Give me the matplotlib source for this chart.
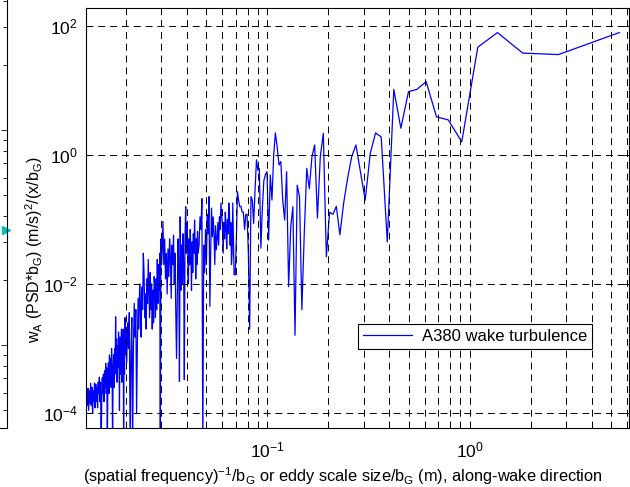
import matplotlib
matplotlib.use("Agg")
import matplotlib.pyplot as plt
import matplotlib.ticker as ticker

# large eddies: resolved harmonics
scale_coarse = [5.48, 2.74, 1.827, 1.37, 1.096, 0.9133, 0.7829, 0.685, 0.6089, 0.548,
                0.4982, 0.4567, 0.4215, 0.3914, 0.3653, 0.3425, 0.3224, 0.3044, 0.2884, 0.274,
                0.261, 0.2491, 0.2383, 0.2283, 0.2192, 0.2108, 0.203, 0.1957, 0.189, 0.1827,
                0.1768, 0.1713, 0.1661, 0.1612, 0.1566, 0.1522, 0.1481, 0.1442, 0.1405, 0.137,
                0.1337, 0.1305, 0.1274, 0.1245, 0.1218, 0.1191, 0.1166, 0.1142, 0.1118, 0.1096,
                0.1075, 0.1054, 0.1034, 0.1015, 0.0996, 0.0979, 0.0961, 0.0945, 0.0929, 0.0913,
                0.0898, 0.0884, 0.087, 0.0856, 0.0843, 0.083, 0.0818, 0.0806, 0.0794, 0.0783,
                0.0772, 0.0761, 0.0751, 0.0741, 0.0731, 0.0721, 0.0712, 0.0703, 0.0694, 0.0685]
psd_coarse = [79, 36, 38, 79, 47, 1.6, 3.5, 3.9, 13.7, 10.4,
              9.6, 2.6, 10.4, 0.045, 1.9, 2.2, 1.05, 0.20, 0.55, 1.43,
              0.94, 0.43, 0.18, 0.058, 0.16, 0.12, 0.13, 0.0265, 2.17, 0.94,
              0.105, 1.43, 0.94, 0.30, 0.62, 0.06, 0.004, 0.226, 0.34, 0.0016,
              0.158, 0.077, 0.0091, 0.55, 0.098, 0.2, 0.79, 0.70, 1.35, 2.2,
              1.0, 0.2, 0.49, 0.048, 0.55, 0.5, 0.40, 0.15, 0.036, 0.62,
              0.58, 0.84, 0.3, 0.087, 0.2, 0.226, 0.002, 0.03, 0.12, 0.12,
              0.07, 0.13, 0.13, 0.16, 0.158, 0.2, 0.27, 0.05, 0.0138, 0.014]

# small eddies: the dense band, estimated from the envelope of the trace
scale_dense = [0.0680, 0.0675, 0.0670, 0.0665, 0.0660, 0.0655, 0.0650, 0.0645, 0.0640, 0.0635,
               0.0630, 0.0625, 0.0620, 0.0615, 0.0610, 0.0605, 0.0600, 0.0595, 0.0590, 0.0585,
               0.0580, 0.0575, 0.0570, 0.0565, 0.0560, 0.0555, 0.0550, 0.0545, 0.0540, 0.0535,
               0.0530, 0.0525, 0.0520, 0.0515, 0.0510, 0.0505, 0.0500, 0.0495, 0.0490, 0.0485,
               0.0480, 0.0475, 0.0470, 0.0465, 0.0460,
               0.0455, 0.0452, 0.0449, 0.0446, 0.0443, 0.0440, 0.0437, 0.0434, 0.0431, 0.0428,
               0.0425, 0.0422, 0.0419, 0.0416, 0.0413, 0.0410, 0.0407, 0.0404, 0.0401, 0.0398,
               0.0395, 0.0392, 0.0389, 0.0386, 0.0383, 0.0380, 0.0377, 0.0374, 0.0371, 0.0368,
               0.0365, 0.0362, 0.0359, 0.0356, 0.0353, 0.0350, 0.0347, 0.0344, 0.0341, 0.0338,
               0.0335, 0.0332, 0.0329, 0.0326, 0.0323, 0.0320, 0.0317, 0.0314, 0.0311, 0.0308,
               0.0305, 0.0302,
               0.0300, 0.0298, 0.0296, 0.0294, 0.0292, 0.0290, 0.0288, 0.0286, 0.0284, 0.0282,
               0.0280, 0.0278, 0.0276, 0.0274, 0.0272, 0.0270, 0.0268, 0.0266, 0.0264, 0.0262,
               0.0260, 0.0258, 0.0256, 0.0254, 0.0252, 0.0250, 0.0248, 0.0246, 0.0244, 0.0242,
               0.0240, 0.0238, 0.0236, 0.0234, 0.0232, 0.0230, 0.0228, 0.0226, 0.0224, 0.0222,
               0.0220, 0.0218, 0.0216, 0.0214, 0.0212, 0.0210, 0.0208, 0.0206, 0.0204, 0.0202,
               0.0200,
               0.0199, 0.0198, 0.0197, 0.0196, 0.0195, 0.0194, 0.0193, 0.0192, 0.0191, 0.0190,
               0.0189, 0.0188, 0.0187, 0.0186, 0.0185, 0.0184, 0.0183, 0.0182, 0.0181, 0.0180,
               0.0179, 0.0178, 0.0177, 0.0176, 0.0175, 0.0174, 0.0173, 0.0172, 0.0171, 0.0170,
               0.0169, 0.0168, 0.0167, 0.0166, 0.0165, 0.0164, 0.0163, 0.0162, 0.0161, 0.0160,
               0.0159, 0.0158, 0.0157, 0.0156, 0.0155, 0.0154, 0.0153, 0.0152, 0.0151, 0.0150,
               0.0149, 0.0148, 0.0147, 0.0146, 0.0145, 0.0144, 0.0143, 0.0142, 0.0141, 0.0140,
               0.0139, 0.0138, 0.0137, 0.0136, 0.0135, 0.0134, 0.0133, 0.0132, 0.0131, 0.0130,
               0.0129, 0.0128, 0.0127]
psd_dense = [0.05, 0.18, 0.03, 0.02, 0.09, 0.04, 0.12, 0.18, 0.06, 0.10,
             0.035, 0.077, 0.13, 0.05, 0.09, 0.03, 0.08, 0.12, 0.18, 0.07,
             0.11, 0.04, 0.09, 0.05, 0.034, 0.08, 0.02, 0.06, 0.11, 0.054,
             0.15, 0.03, 0.0045, 0.226, 0.06, 0.12, 0.02, 0.07, 0.015, 0.04,
             3e-5, 0.21, 0.07, 0.11, 0.04,
             0.03, 0.065, 0.02, 0.05, 0.012, 0.04, 0.098, 0.03, 0.06, 0.015,
             0.045, 0.008, 0.03, 0.07, 0.02, 0.05, 0.01, 0.04, 0.09, 0.03,
             0.158, 0.05, 3.3e-4, 0.02, 0.06, 0.01, 0.04, 0.008, 0.11, 3.1e-4,
             0.02, 0.05, 0.006, 7e-4, 0.0035, 0.03, 0.01, 0.057, 0.02, 0.04,
             0.006, 0.025, 0.05, 0.013, 0.035, 0.007, 0.03, 0.012, 0.05, 0.02,
             0.093, 0.03,
             0.02, 0.05, 3e-5, 0.03, 0.008, 0.02, 0.005, 0.024, 0.004, 0.012,
             0.003, 0.009, 0.013, 0.0025, 0.008, 0.002, 0.01, 0.004, 0.015, 0.003,
             0.009, 0.024, 0.005, 0.012, 0.002, 0.007, 0.003, 0.015, 0.03, 0.004,
             0.009, 0.0015, 0.005, 0.01, 0.002, 0.006, 0.0012, 1e-4, 0.004, 0.0015,
             0.005, 0.001, 3e-5, 0.003, 0.0008, 3e-5, 0.0036, 0.001, 0.0025, 6e-4,
             0.002,
             8e-4, 0.003, 4e-4, 0.0015, 3e-5, 0.002, 6e-4, 0.0012, 3e-4, 0.002,
             9.5e-4, 4e-4, 0.0015, 1.1e-4, 8e-4, 0.0018, 5e-4, 0.0011, 3e-4, 0.0014,
             6e-4, 0.0031, 4e-4, 0.001, 2.5e-4, 8e-4, 4e-4, 3e-5, 5.2e-4, 0.001,
             2.5e-4, 7e-4, 3e-4, 7.9e-4, 2e-4, 6e-4, 3e-4, 3e-5, 5e-4, 2e-4,
             5.9e-4, 2.5e-4, 4.5e-4, 1.5e-4, 4e-4, 2e-4, 3.5e-4, 1.5e-4, 3e-5, 3e-4,
             1.5e-4, 3.6e-4, 2e-4, 3e-4, 1.2e-4, 2.5e-4, 1.5e-4, 2.8e-4, 1.2e-4, 2.9e-4,
             1.5e-4, 2.2e-4, 1e-4, 2.5e-4, 1.3e-4, 2.9e-4, 1.4e-4, 2.2e-4, 1.1e-4, 2.4e-4,
             1.3e-4, 2e-4, 1.5e-4]

scale_size = scale_coarse + scale_dense
psd = psd_coarse + psd_dense

y_ticks = [1e-4, 1e-2, 1e0, 1e2]

plt.rcParams['font.family'] = ['Liberation Sans', 'DejaVu Sans']
plt.rcParams['mathtext.fontset'] = 'custom'
plt.rcParams['mathtext.rm'] = 'Liberation Sans'
plt.rcParams['mathtext.it'] = 'Liberation Sans:italic'
plt.rcParams['mathtext.bf'] = 'Liberation Sans:bold'
plt.rcParams['axes.unicode_minus'] = False
plt.rcParams['lines.scale_dashes'] = False

fig = plt.figure(figsize=(6.3, 4.87), dpi=100)

# bit of the neighbouring panel that shows at the left edge of the screenshot
ax0 = fig.add_axes([-0.2, 59 / 487, 0.2 + 7 / 630, 428 / 487])
ax0.set_yscale('log')
ax0.set_xlim(0, 1)
ax0.set_ylim(10 ** -1.386, 10 ** 0.605)
ax0.plot([0.995], [0.343], marker='>', color='c', markersize=6, clip_on=False)
ax0.spines['top'].set_visible(False)
ax0.spines['left'].set_visible(False)
for sp in ax0.spines.values():
    sp.set_linewidth(0.8)
ax0.tick_params(which='both', direction='in', left=False, right=True, bottom=False,
                labelleft=False, labelbottom=False, width=0.6)
ax0.tick_params(which='major', length=4)
ax0.tick_params(which='minor', length=3)

ax = fig.add_axes([86 / 630, 59 / 487, 543 / 630, 420 / 487])
ax.plot(scale_size, psd, color=(0, 0, 1), linewidth=0.9, label="A380 wake turbulence")
ax.set_xscale('log')
ax.set_yscale('log')
ax.set_xlim(0.01271, 6.12)
ax.set_ylim(5.85e-5, 190)

ax.yaxis.set_major_locator(ticker.FixedLocator(y_ticks))
ax.yaxis.set_minor_locator(ticker.NullLocator())
ax.yaxis.set_major_formatter(ticker.LogFormatterMathtext())
ax.xaxis.set_major_formatter(ticker.LogFormatterMathtext())
ax.xaxis.set_minor_locator(ticker.LogLocator(base=10, subs=range(2, 10), numticks=20))
ax.xaxis.set_minor_formatter(ticker.NullFormatter())

dash = (0, (5, 3.5))
ax.grid(True, which='major', axis='both', color='k', linewidth=0.7, linestyle=dash)
ax.grid(True, which='minor', axis='x', color='k', linewidth=0.7, linestyle=dash)
ax.set_axisbelow(False)

ax.tick_params(which='both', direction='in', top=True, right=True, width=0.6, labelsize=12.5)
ax.tick_params(which='major', length=4.5, pad=6)
ax.tick_params(which='minor', length=3.5)
ax.tick_params(axis='x', which='major', pad=9)
for sp in ax.spines.values():
    sp.set_linewidth(0.8)

leg = ax.legend(loc='upper right', bbox_to_anchor=(0.932, 0.2476), fontsize=12,
                fancybox=False, framealpha=1, edgecolor='k', handlelength=2.9,
                handletextpad=0.6, borderpad=0.3, borderaxespad=0)
leg.get_frame().set_linewidth(0.8)

fig.text(34 / 630, 1 - 250 / 487,
         "w$_\\mathrm{A}$ (PSD*b$_\\mathrm{G}$) (m/s)$^\\mathrm{2}$/(x/b$_\\mathrm{G}$)",
         rotation=90, ha='center', va='center', fontsize=11.5)
fig.text(343 / 630, 1 - 476 / 487,
         "(spatial frequency)$^\\mathrm{-1}$/b$_\\mathrm{G}$ or eddy scale size/b$_\\mathrm{G}$ (m), along-wake direction",
         ha='center', va='center', fontsize=11.8)

plt.savefig("out.png", dpi=100)
